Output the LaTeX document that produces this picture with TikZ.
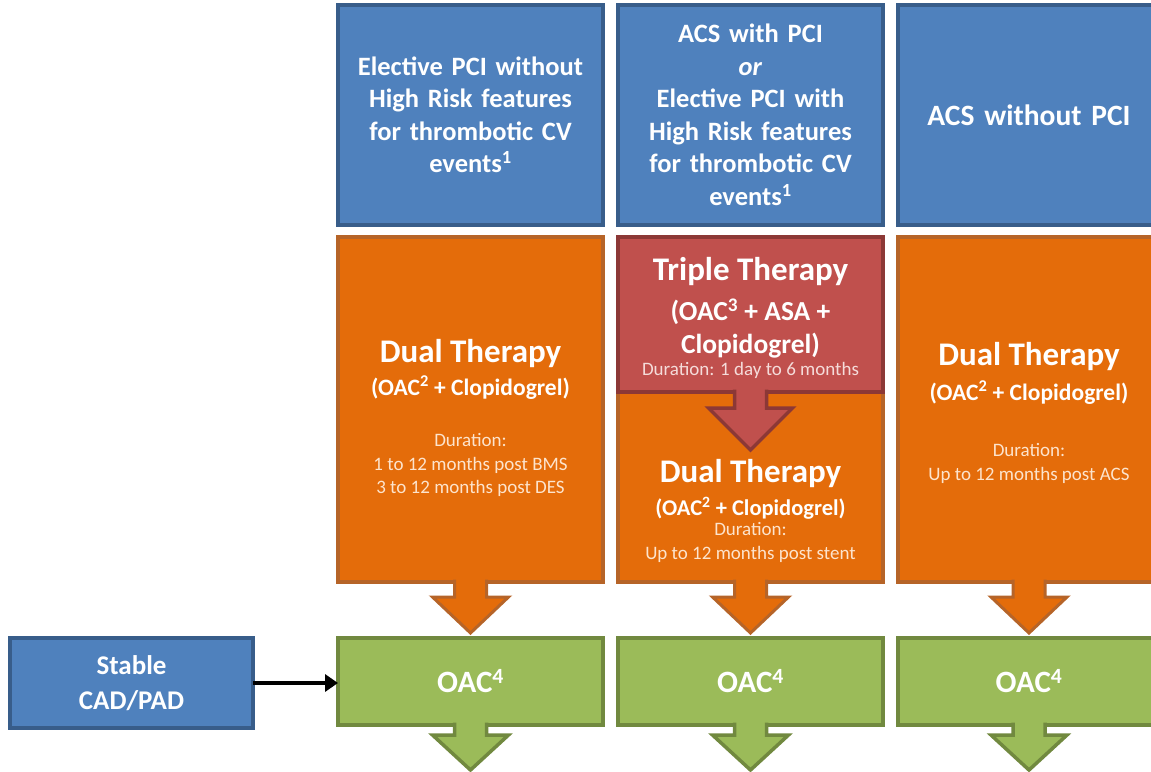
\documentclass[tikz,border=0pt]{standalone}
\usepackage{fontspec}
\setmainfont{Carlito}
\usetikzlibrary{arrows.meta,calc}
\definecolor{bfill}{RGB}{79,129,189}
\definecolor{bline}{RGB}{56,93,138}
\definecolor{ofill}{RGB}{228,108,10}
\definecolor{oline}{RGB}{182,100,40}
\definecolor{rfill}{RGB}{192,80,77}
\definecolor{rline}{RGB}{140,56,54}
\definecolor{gfill}{RGB}{155,187,89}
\definecolor{gline}{RGB}{113,137,63}
\definecolor{otext}{RGB}{253,228,205}
\definecolor{rtext}{RGB}{245,220,218}
\newcommand{\fsz}[2]{\fontsize{#1}{#2}\selectfont}
% block arrow: style, from anchor, tip, stem length, head half width
\newcommand{\blockarr}[5]{%
  \filldraw[#1] let \p1=(#2), \p2=(#3) in
  (\x1-16pt,\y1+2.5pt) -- (\x1-16pt,\y1-#4) -- (\x1-#5,\y1-#4) -- (\x1,\y2)
  -- (\x1+#5,\y1-#4) -- (\x1+16pt,\y1-#4) -- (\x1+16pt,\y1+2.5pt);}
\tikzset{
  box/.style={draw, line width=3.5pt, outer sep=0pt, inner sep=0pt, text=white, align=center},
  hdr/.style={box, fill=bfill, draw=bline, minimum height=220pt, text width=255pt,
    font=\bfseries\fsz{26.5}{32.5}},
  ther/.style={box, fill=ofill, draw=oline},
  trip/.style={box, fill=rfill, draw=rline},
  oac/.style={box, fill=gfill, draw=gline, minimum height=87pt, font=\bfseries\fsz{31}{36}},
  txt/.style={inner sep=0pt, outer sep=0pt, align=center, text=white},
  ttl/.style={txt, font=\bfseries\fsz{33}{38}},
  sub/.style={txt, font=\bfseries\fsz{23.5}{28}},
  dur/.style={txt, text=otext, font=\fsz{19}{23.5}},
  oarrow/.style={fill=ofill, draw=oline, line width=3pt},
  rarrow/.style={fill=rfill, draw=rline, line width=3.5pt},
  garrow/.style={fill=gfill, draw=gline, line width=3.5pt},
}
\begin{document}
\begin{tikzpicture}[x=1pt,y=-1pt]
\useasboundingbox (0,0) rectangle (1151,771);
% headers
\node[hdr, minimum width=265pt] (h1) at (470.5,115) {Elective PCI without\\High Risk features\\for thrombotic CV\\events\textsuperscript{1}};
\node[hdr, minimum width=265pt] (h2) at (750.5,115) {ACS with PCI\\\textit{or}\\Elective PCI with\\High Risk features\\for thrombotic CV\\events\textsuperscript{1}};
\node[hdr, minimum width=262pt, font=\bfseries\fsz{29.5}{34}] (h3) at (1029,115) {ACS without PCI};
% therapy boxes
\node[ther, minimum width=265pt, minimum height=345pt] (d1) at (470.5,409.5) {};
\node[ther, minimum width=265pt, minimum height=190pt] (d2) at (750.5,487) {};
\node[trip, minimum width=265pt, minimum height=155pt] (t2) at (750.5,314.5) {};
\node[ther, minimum width=262pt, minimum height=345pt] (d3) at (1029,409.5) {};
% column 1 text
\node[ttl] (d1a) at (470.5,354) {Dual Therapy};
\node[sub] (d1b) at (470.5,388) {(OAC\textsuperscript{2} + Clopidogrel)};
\node[dur] (d1c) at (470.5,465) {Duration:\\1 to 12 months post BMS\\3 to 12 months post DES};
% column 2 text
\node[ttl] (t2a) at (750.5,272) {Triple Therapy};
\node[txt, font=\bfseries\fsz{27.5}{33}] (t2b) at (750.5,328.5) {(OAC\textsuperscript{3} + ASA +\\Clopidogrel)};
\node[dur, text=rtext] (t2c) at (750.5,370) {Duration: 1 day to 6 months};
\node[ttl] (d2a) at (750.5,474) {Dual Therapy};
\node[sub, font=\bfseries\fsz{22.5}{27}] (d2b) at (750.5,508) {(OAC\textsuperscript{2} + Clopidogrel)};
\node[dur, font=\fsz{19}{24.5}] (d2c) at (750.5,542.5) {Duration:\\Up to 12 months post stent};
% column 3 text
\node[ttl] (d3a) at (1029,357) {Dual Therapy};
\node[sub] (d3b) at (1029,393) {(OAC\textsuperscript{2} + Clopidogrel)};
\node[dur] (d3c) at (1029,463.5) {Duration:\\Up to 12 months post ACS};
% red arrow triple -> dual
\coordinate (t2tip) at (750.5,450);
\blockarr{rarrow}{t2.south}{t2tip}{16pt}{42pt}
% OAC boxes
\node[oac, minimum width=265pt] (g1) at (470.5,681.5) {OAC\textsuperscript{4}};
\node[oac, minimum width=265pt] (g2) at (750.5,681.5) {OAC\textsuperscript{4}};
\node[oac, minimum width=262pt] (g3) at (1029,681.5) {OAC\textsuperscript{4}};
% orange arrows
\blockarr{oarrow}{d1.south}{[yshift=5pt]g1.north}{15pt}{38pt}
\blockarr{oarrow}{d2.south}{[yshift=5pt]g2.north}{15pt}{38pt}
\blockarr{oarrow}{d3.south}{[yshift=5pt]g3.north}{15pt}{38pt}
% green arrows
\coordinate (e1) at (470.5,770);
\coordinate (e2) at (750.5,770);
\coordinate (e3) at (1029,770);
\blockarr{garrow}{g1.south}{e1}{10pt}{38pt}
\blockarr{garrow}{g2.south}{e2}{10pt}{38pt}
\blockarr{garrow}{g3.south}{e3}{10pt}{38pt}
% stable CAD/PAD
\node[box, fill=bfill, draw=bline, minimum width=243pt, minimum height=90pt,
  font=\bfseries\fsz{27}{35}] (s) at (131.5,683) {Stable\\CAD/PAD};
\draw[line width=4pt, -{Triangle[length=13pt,width=17pt]}] (s.east) -- (s.east -| g1.west);
\end{tikzpicture}
\end{document}
